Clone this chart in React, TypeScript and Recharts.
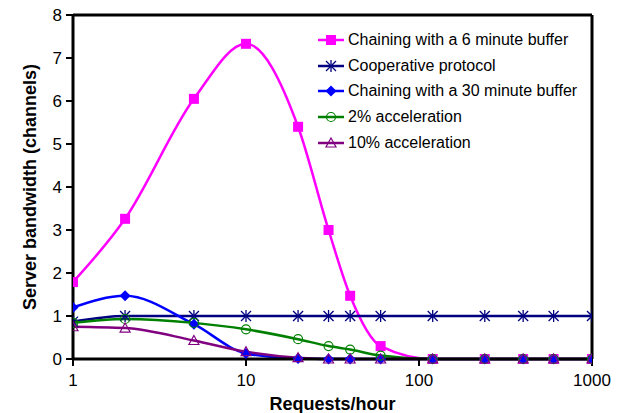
import React from 'react';
import { LineChart, Line, XAxis, YAxis, ReferenceLine } from 'recharts';

const requests = [1, 2, 5, 10, 20, 30, 40, 60, 120, 240, 400, 600, 1000];
const chaining6 = [1.79, 3.26, 6.05, 7.33, 5.4, 3.0, 1.47, 0.3, 0, 0, 0, 0, 0];
const cooperative = [0.87, 1, 1, 1, 1, 1, 1, 1, 1, 1, 1, 1, 1];
const chaining30 = [1.2, 1.47, 0.81, 0.13, 0.01, 0, 0, 0, 0, 0, 0, 0, 0];
const accel2 = [0.84, 0.93, 0.84, 0.69, 0.46, 0.3, 0.22, 0.08, 0, 0, 0, 0, 0];
const accel10 = [0.75, 0.72, 0.43, 0.17, 0.03, 0, 0, 0, 0, 0, 0, 0, 0];
const xTicks = [1, 10, 100, 1000];
const yTicks = [0, 1, 2, 3, 4, 5, 6, 7, 8];

const series = [
  { key: 'chaining6', name: 'Chaining with a 6 minute buffer', color: '#ff00ff', marker: 'square', values: chaining6 },
  { key: 'cooperative', name: 'Cooperative protocol', color: '#000080', marker: 'asterisk', values: cooperative },
  { key: 'chaining30', name: 'Chaining with a 30 minute buffer', color: '#0000ff', marker: 'diamond', values: chaining30 },
  { key: 'accel2', name: '2% acceleration', color: '#008000', marker: 'circle', values: accel2 },
  { key: 'accel10', name: '10% acceleration', color: '#800080', marker: 'triangle', values: accel10 },
];

const data = requests.map((r, i) => {
  const row: Record<string, number> = { x: r };
  series.forEach((s) => {
    row[s.key] = s.values[i];
  });
  return row;
});

const FONT = '"Liberation Sans", Arial, sans-serif';

function Marker({ kind, cx, cy, color }: { kind: string; cx: number; cy: number; color: string }) {
  if (cx == null || cy == null) return null;
  switch (kind) {
    case 'square':
      return <rect x={cx - 5} y={cy - 5} width={10} height={10} fill={color} />;
    case 'asterisk':
      return (
        <g stroke={color} strokeWidth={1.3}>
          <line x1={cx - 5} y1={cy - 5} x2={cx + 5} y2={cy + 5} />
          <line x1={cx - 5} y1={cy + 5} x2={cx + 5} y2={cy - 5} />
          <line x1={cx} y1={cy - 6} x2={cx} y2={cy + 6} />
        </g>
      );
    case 'diamond':
      return <polygon points={`${cx},${cy - 5.5} ${cx + 5.5},${cy} ${cx},${cy + 5.5} ${cx - 5.5},${cy}`} fill={color} />;
    case 'circle':
      return <circle cx={cx} cy={cy} r={4.5} fill="none" stroke={color} strokeWidth={1.2} />;
    case 'triangle':
      return (
        <polygon
          points={`${cx},${cy - 5} ${cx + 5},${cy + 4} ${cx - 5},${cy + 4}`}
          fill="none"
          stroke={color}
          strokeWidth={1.2}
        />
      );
    default:
      return null;
  }
}

function LegendBox() {
  return (
    <div style={{ position: 'absolute', left: 318, top: 27, fontFamily: FONT, fontSize: 16, color: '#000' }}>
      {series.map((s) => (
        <div key={s.key} style={{ display: 'flex', alignItems: 'center', height: 25.7 }}>
          <svg width={26} height={14} style={{ marginRight: 4 }}>
            <line x1={0} y1={7} x2={26} y2={7} stroke={s.color} strokeWidth={2.5} />
            <Marker kind={s.marker} cx={13} cy={7} color={s.color} />
          </svg>
          <span>{s.name}</span>
        </div>
      ))}
    </div>
  );
}

const YTitle = ({ viewBox }: any) => {
  const x = viewBox.x - 3;
  const y = viewBox.y + viewBox.height / 2;
  return (
    <text
      x={x}
      y={y}
      transform={`rotate(-90 ${x} ${y})`}
      textAnchor="middle"
      dominantBaseline="central"
      style={{ fontSize: 18, fontWeight: 'bold', fontFamily: FONT, fill: '#000' }}
    >
      Server bandwidth (channels)
    </text>
  );
};

const XTitle = ({ viewBox }: any) => {
  const x = viewBox.x + viewBox.width / 2;
  return (
    <text
      x={x}
      y={410}
      textAnchor="middle"
      style={{ fontSize: 18, fontWeight: 'bold', fontFamily: FONT, fill: '#000' }}
    >
      Requests/hour
    </text>
  );
};

export default function App() {
  return (
    <div style={{ position: 'fixed', left: 0, top: 0, width: 620, height: 413, background: '#fff' }}>
      <LineChart width={620} height={413} data={data} margin={{ top: 15, right: 28, bottom: 24, left: 33 }}>
        <XAxis
          dataKey="x"
          type="number"
          scale="log"
          domain={[1, 1000]}
          ticks={xTicks}
          allowDataOverflow
          height={30}
          tick={{ fontSize: 17, fill: '#000', fontFamily: FONT }}
          axisLine={{ stroke: '#000', strokeWidth: 3 }}
          tickLine={{ stroke: '#000', strokeWidth: 2 }}
          tickSize={7}
          tickMargin={8}
          label={<XTitle />}
        />
        <YAxis
          type="number"
          domain={[0, 8]}
          ticks={yTicks}
          width={40}
          tick={{ fontSize: 17, fill: '#000', fontFamily: FONT }}
          axisLine={{ stroke: '#000', strokeWidth: 3 }}
          tickLine={{ stroke: '#000', strokeWidth: 2 }}
          tickSize={7}
          tickMargin={4}
          label={<YTitle />}
        />
        <ReferenceLine y={8} stroke="#000" strokeWidth={3} />
        <ReferenceLine x={1000} stroke="#000" strokeWidth={3} />
        {series.map((s) => (
          <Line
            key={s.key}
            dataKey={s.key}
            name={s.name}
            type="monotone"
            stroke={s.color}
            strokeWidth={2.5}
            isAnimationActive={false}
            dot={(p: any) => <Marker key={`${s.key}-${p.index}`} kind={s.marker} cx={p.cx} cy={p.cy} color={s.color} />}
            activeDot={false}
          />
        ))}
      </LineChart>
      <LegendBox />
    </div>
  );
}
